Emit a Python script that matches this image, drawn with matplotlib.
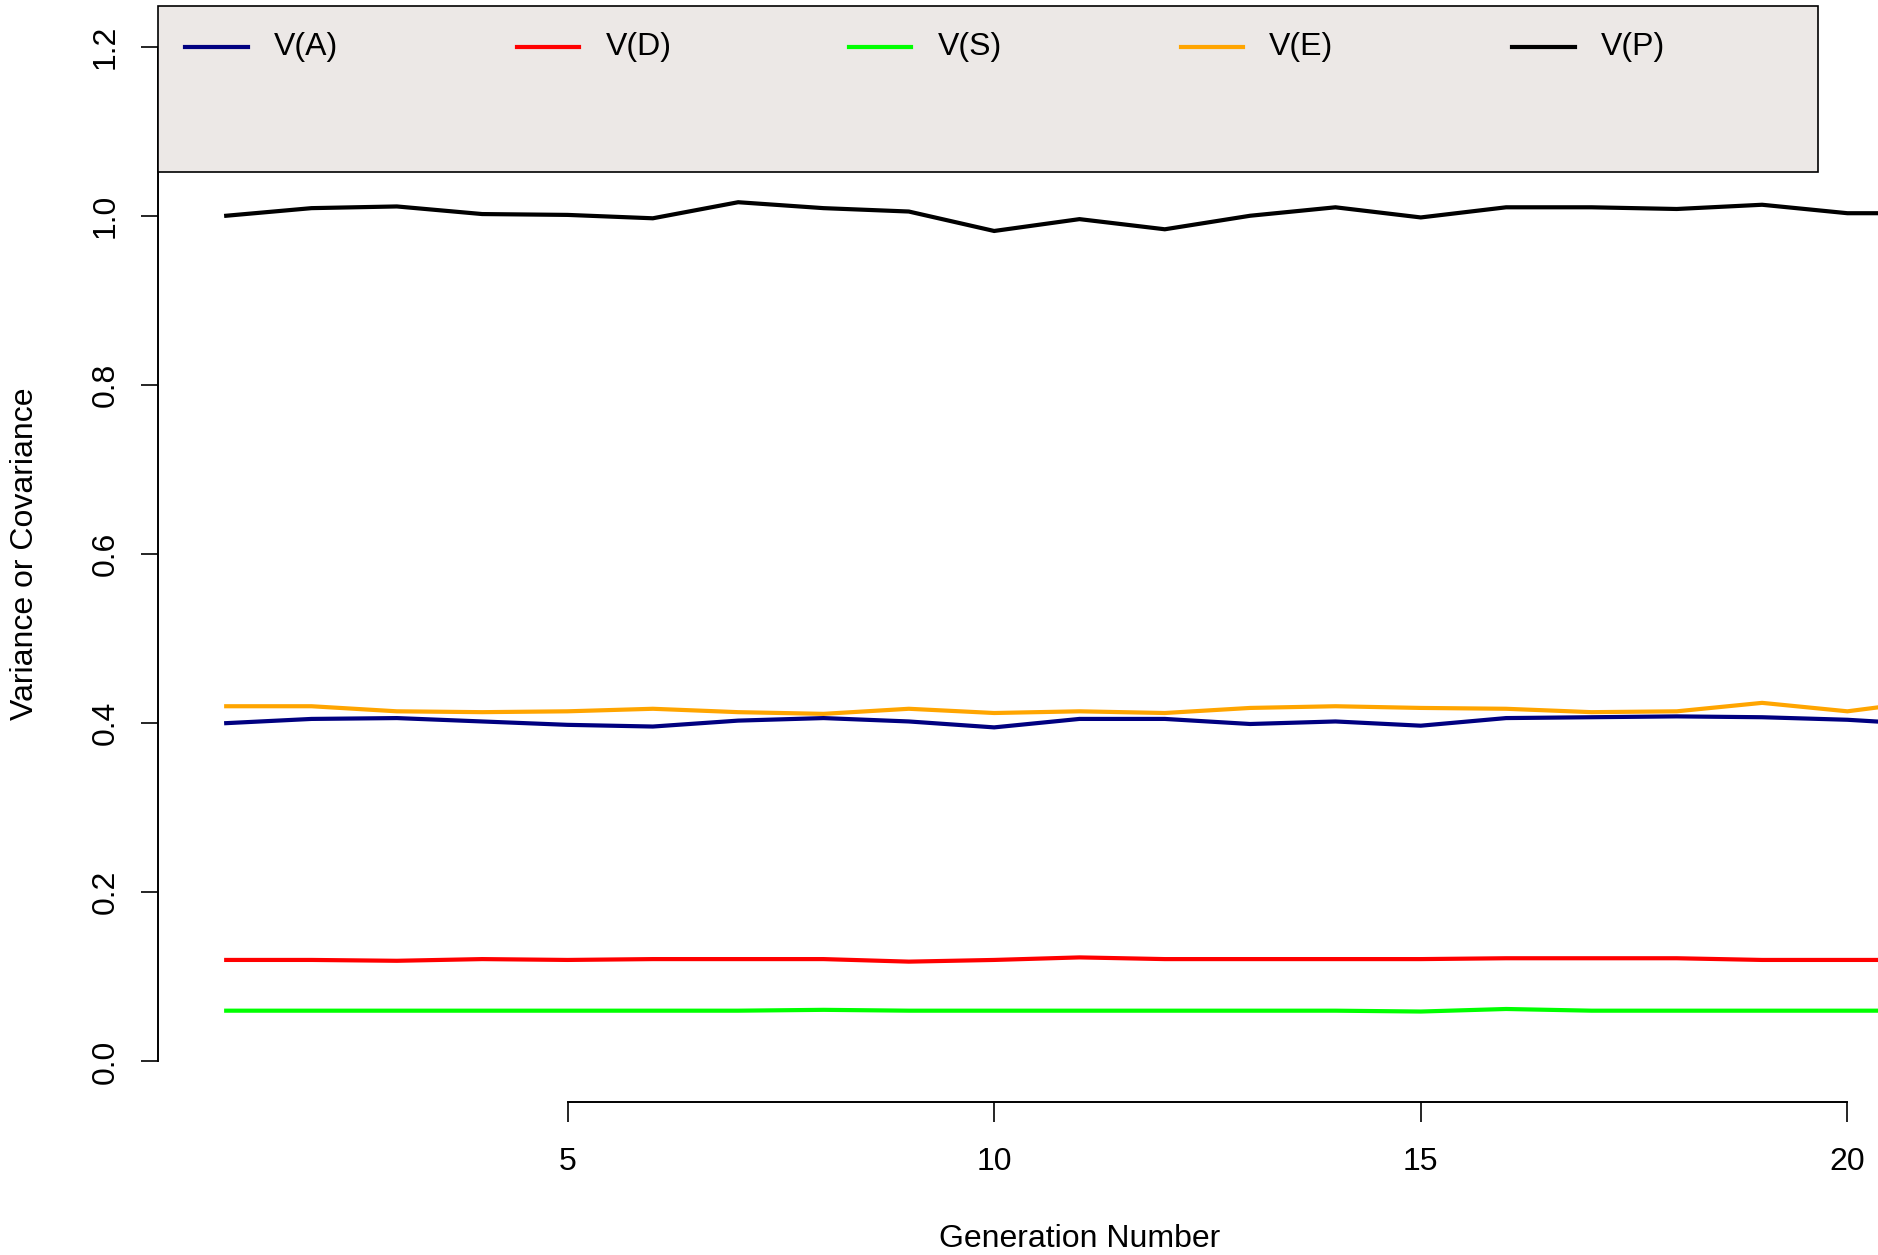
import numpy as np
import matplotlib.pyplot as plt
from matplotlib.patches import Rectangle

plt.rcParams['font.family'] = ['Liberation Sans', 'DejaVu Sans']

# -------- Data --------
generations = np.arange(1, 22)

v_a = [0.400, 0.405, 0.406, 0.402, 0.398, 0.396, 0.403, 0.406, 0.402, 0.395,
       0.405, 0.405, 0.399, 0.402, 0.397, 0.406, 0.407, 0.408, 0.407, 0.404, 0.398]
v_d = [0.120, 0.120, 0.119, 0.121, 0.120, 0.121, 0.121, 0.121, 0.118, 0.120,
       0.123, 0.121, 0.121, 0.121, 0.121, 0.122, 0.122, 0.122, 0.120, 0.120, 0.120]
v_s = [0.060, 0.060, 0.060, 0.060, 0.060, 0.060, 0.060, 0.061, 0.060, 0.060,
       0.060, 0.060, 0.060, 0.060, 0.059, 0.062, 0.060, 0.060, 0.060, 0.060, 0.060]
v_e = [0.420, 0.420, 0.414, 0.413, 0.414, 0.417, 0.413, 0.411, 0.417, 0.412,
       0.414, 0.412, 0.418, 0.420, 0.418, 0.417, 0.413, 0.414, 0.424, 0.414, 0.427]
v_p = [1.000, 1.009, 1.011, 1.002, 1.001, 0.997, 1.016, 1.009, 1.005, 0.982,
       0.996, 0.984, 1.000, 1.010, 0.998, 1.010, 1.010, 1.008, 1.013, 1.003, 1.003]

labels = ["V(A)", "V(D)", "V(S)", "V(E)", "V(P)"]
colors = ["#000080", "#FF0000", "#00FF00", "#FFA500", "#000000"]
series = [v_a, v_d, v_s, v_e, v_p]

x_ticks = [5, 10, 15, 20]
y_ticks = [0.0, 0.2, 0.4, 0.6, 0.8, 1.0, 1.2]

# -------- Plot --------
# the plot region runs past the right edge of the picture, like the reference
fig = plt.figure(figsize=(18.78, 12.55), dpi=100)
ax = fig.add_axes([0.0841, 0.1219, 0.9814, 0.8733])

for vals, col in zip(series, colors):
    ax.plot(generations, vals, color=col, lw=3.0, solid_joinstyle='miter')

ax.set_xlim(0.2, 21.8)
ax.set_ylim(-0.048, 1.248)

for s in ["top", "right"]:
    ax.spines[s].set_visible(False)
ax.spines["left"].set_bounds(0, 1.2)
ax.spines["bottom"].set_bounds(5, 20)
ax.spines["left"].set_linewidth(1.4)
ax.spines["bottom"].set_linewidth(1.4)

ax.set_xticks(x_ticks)
ax.set_xticklabels([str(t) for t in x_ticks])
ax.set_yticks(y_ticks)
ax.set_yticklabels([f"{t:.1f}" for t in y_ticks], rotation=90, va="center")
ax.tick_params(axis="x", length=14.4, width=1.2, pad=18, labelsize=23)
ax.tick_params(axis="y", length=12, width=1.2, pad=15, labelsize=23)

ax.set_xlabel("Generation Number", fontsize=23)
ax.set_ylabel("Variance or Covariance", fontsize=23)
ax.xaxis.set_label_coords(0.5, -0.111)
ax.yaxis.set_label_coords(-0.064, 0.5)

# -------- Legend box (R style) --------
ax.add_patch(Rectangle((0.0, 0.849), 0.9005, 0.151, transform=ax.transAxes,
                       facecolor="#ECE8E6", edgecolor="black", lw=1.2,
                       clip_on=False, zorder=3))
for i, (lab, col) in enumerate(zip(labels, colors)):
    x0 = 0.0149 + i * 0.18
    ax.plot([x0, x0 + 0.0338], [0.963, 0.963], transform=ax.transAxes,
            color=col, lw=3.0, clip_on=False, zorder=4)
    ax.text(x0 + 0.048, 0.963, lab, transform=ax.transAxes, fontsize=23,
            va="center", ha="left", zorder=4)

plt.savefig("out.png", dpi=100)
